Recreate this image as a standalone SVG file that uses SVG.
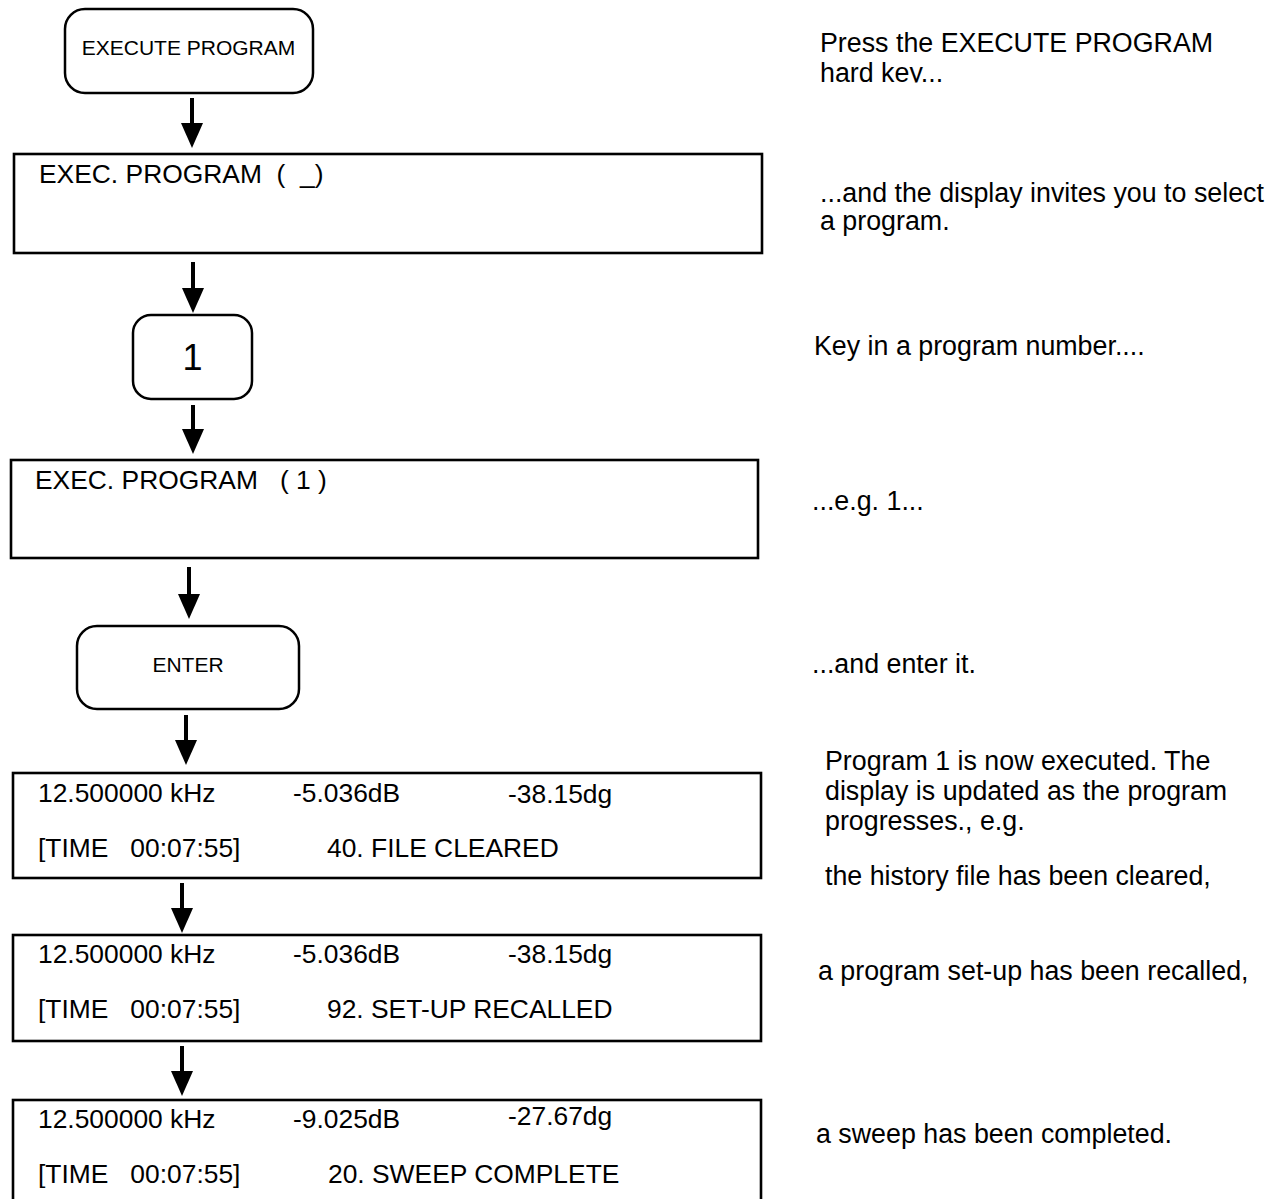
<svg xmlns="http://www.w3.org/2000/svg" width="1281" height="1199" viewBox="0 0 1281 1199">
<style>
text{font-family:"Liberation Sans",Arial,sans-serif;fill:#000;white-space:pre}
.key{fill:#fff;stroke:#000;stroke-width:2.5}
.disp{fill:#fff;stroke:#000;stroke-width:2.6}
.kt{font-size:21px;text-anchor:middle}
.dt{font-size:26.4px}
.nt{font-size:26.8px}
.conn line{stroke:#000;stroke-width:4;marker-end:url(#ah)}
</style>
<defs>
<marker id="ah" markerUnits="userSpaceOnUse" markerWidth="26" markerHeight="24" refX="5" refY="11" orient="auto" viewBox="0 0 26 22">
<path d="M0,0 L25,11 L0,22 Z" fill="#000"/>
</marker>
<clipPath id="clipkey"><rect x="800" y="60" width="300" height="22.5"/></clipPath>
</defs>
<rect width="1281" height="1199" fill="#fff"/>

<g id="n-execute-key">
<rect class="key" x="65" y="9" width="248" height="84" rx="20"/>
<text class="kt" x="188.5" y="55">EXECUTE PROGRAM</text>
</g>
<g id="n-display-select">
<rect class="disp" x="14" y="154" width="748" height="99"/>
<text class="dt" x="39" y="183">EXEC. PROGRAM  (  _)</text>
</g>
<g id="n-key-1">
<rect class="key" x="133" y="315" width="119" height="84" rx="18"/>
<text x="192.5" y="370" style="font-size:36px;text-anchor:middle">1</text>
</g>
<g id="n-display-1">
<rect class="disp" x="11" y="460" width="747" height="98"/>
<text class="dt" x="35" y="489">EXEC. PROGRAM   ( 1 )</text>
</g>
<g id="n-enter-key">
<rect class="key" x="77" y="626" width="222" height="83" rx="20"/>
<text class="kt" x="188" y="672">ENTER</text>
</g>
<g id="n-display-cleared">
<rect class="disp" x="13" y="773" width="748" height="105"/>
<text class="dt" x="38" y="802">12.500000 kHz</text>
<text class="dt" x="293" y="802">-5.036dB</text>
<text class="dt" x="508" y="803">-38.15dg</text>
<text class="dt" x="38" y="857">[TIME   00:07:55]</text>
<text class="dt" x="327" y="857">40. FILE CLEARED</text>
</g>
<g id="n-display-recalled">
<rect class="disp" x="13" y="935" width="748" height="106"/>
<text class="dt" x="38" y="963">12.500000 kHz</text>
<text class="dt" x="293" y="963">-5.036dB</text>
<text class="dt" x="508" y="963">-38.15dg</text>
<text class="dt" x="38" y="1018">[TIME   00:07:55]</text>
<text class="dt" x="327" y="1018">92. SET-UP RECALLED</text>
</g>
<g id="n-display-sweep">
<rect class="disp" x="13" y="1100" width="748" height="110"/>
<text class="dt" x="38" y="1128">12.500000 kHz</text>
<text class="dt" x="293" y="1128">-9.025dB</text>
<text class="dt" x="508" y="1125">-27.67dg</text>
<text class="dt" x="38" y="1183">[TIME   00:07:55]</text>
<text class="dt" x="328" y="1183">20. SWEEP COMPLETE</text>
</g>

<g id="connectors" class="conn">
<line x1="192" y1="98" x2="192" y2="128"/>
<line x1="193" y1="262" x2="193" y2="293"/>
<line x1="193" y1="405" x2="193" y2="434"/>
<line x1="189" y1="567" x2="189" y2="599"/>
<line x1="186" y1="715" x2="186" y2="745"/>
<line x1="182" y1="883" x2="182" y2="913"/>
<line x1="182" y1="1046" x2="182" y2="1076"/>
</g>

<g id="notes">
<text class="nt" x="820" y="52">Press the EXECUTE PROGRAM</text>
<text class="nt" x="820" y="82" clip-path="url(#clipkey)">hard key...</text>
<text class="nt" x="820" y="202">...and the display invites you to select</text>
<text class="nt" x="820" y="230">a program.</text>
<text class="nt" x="814" y="355">Key in a program number....</text>
<text class="nt" x="812" y="510">...e.g. 1...</text>
<text class="nt" x="812" y="673">...and enter it.</text>
<text class="nt" x="825" y="770">Program 1 is now executed. The</text>
<text class="nt" x="825" y="800">display is updated as the program</text>
<text class="nt" x="825" y="830">progresses., e.g.</text>
<text class="nt" x="825" y="885">the history file has been cleared,</text>
<text class="nt" x="818" y="980">a program set-up has been recalled,</text>
<text class="nt" x="816" y="1143">a sweep has been completed.</text>
</g>
</svg>
